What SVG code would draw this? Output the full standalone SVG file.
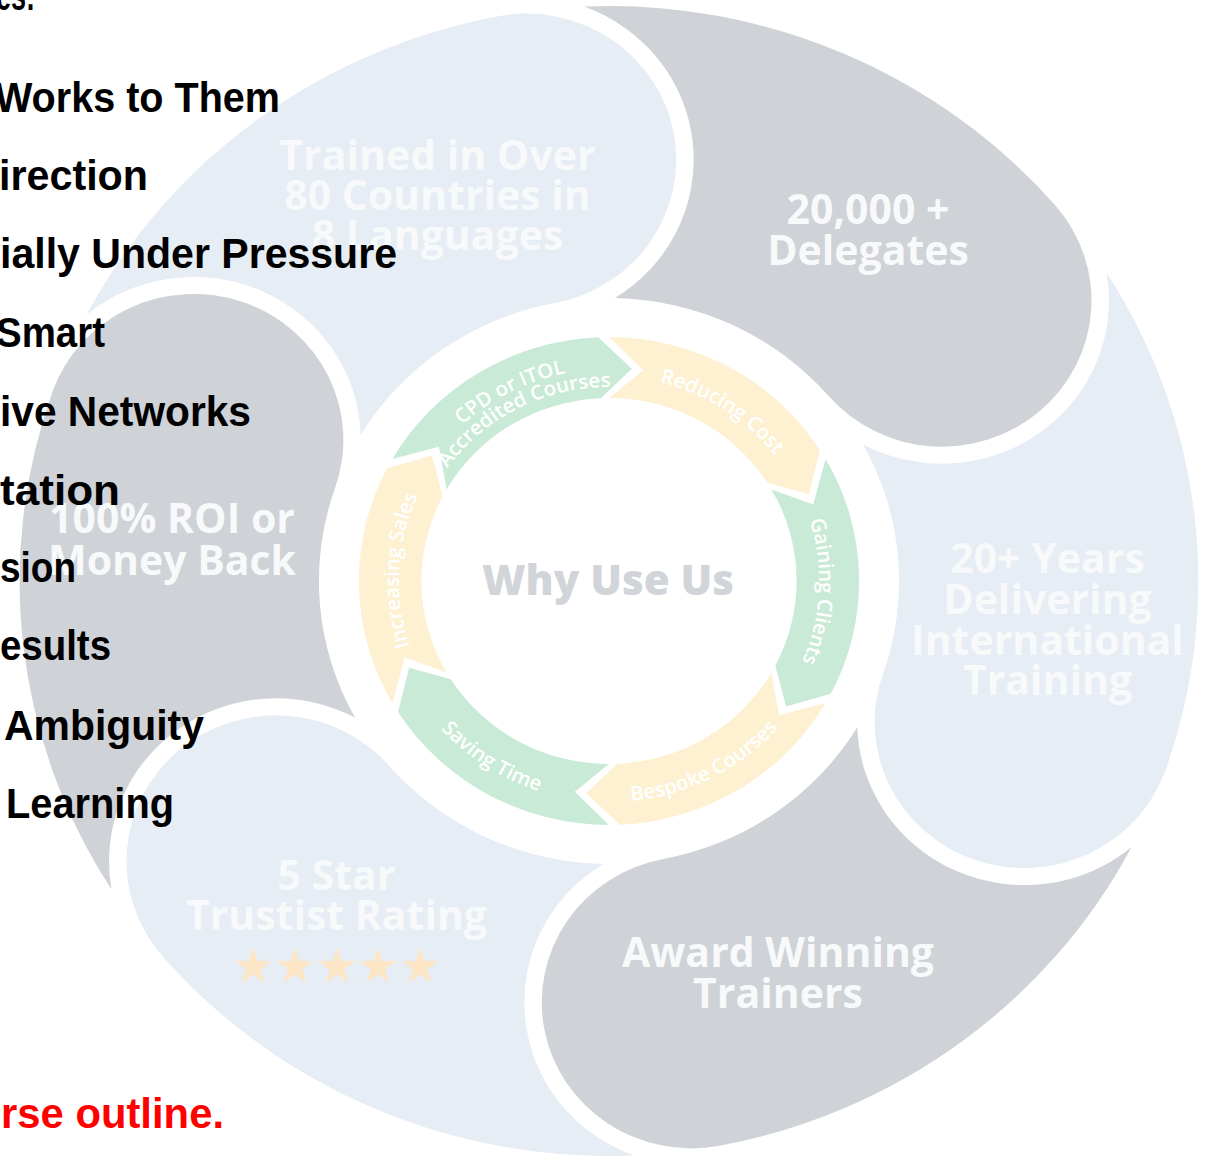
<svg xmlns="http://www.w3.org/2000/svg" width="1209" height="1156" viewBox="0 0 1209 1156">
<style>
.pg{fill:#CFD2D7}
.pb{fill:#E6EDF4}
.cg{fill:#C9EAD7}
.cy{fill:#FDF1D2}
.pt{font-family:"Open Sans","DejaVu Sans",sans-serif;font-weight:700;font-size:41px;fill:#F8F9FA;text-anchor:middle}
.rt{font-family:"Open Sans","DejaVu Sans",sans-serif;font-weight:600;font-size:20px;fill:#FFFFFF}
.hub{font-family:"Open Sans","DejaVu Sans",sans-serif;font-weight:800;font-size:42px;fill:#D1D4D9;text-anchor:middle}
.bk{font-family:"Liberation Sans",Arial,sans-serif;font-weight:700;font-size:43px;fill:#000000}
.rd{font-family:"Liberation Sans",Arial,sans-serif;font-weight:700;font-size:43px;fill:#FF0000}
.star{fill:#FDE6C6}
</style>
<defs>
<path id="petal" d="M -509.72 -266.14 A 575 575 0 0 1 -107.74 -564.82 A 146 146 0 0 1 63.02 -448.76 A 146 146 0 0 1 -53.03 -277.99 A 283 283 0 0 0 -242.23 -146.35 A 163 163 0 0 0 -509.72 -266.14 Z"/>
<path id="chev" d="M -211.31 -122 A 244 244 0 0 1 -10.64 -243.77 L 22.32 -212.33 L -7.98 -182.83 A 183 183 0 0 0 -158.48 -91.5 L -165.92 -134.36 Z"/>
<polygon id="star" points="0,-19.5 4.41,-6.07 18.55,-6.03 7.13,2.32 11.46,15.78 0,7.5 -11.46,15.78 -7.13,2.32 -18.55,-6.03 -4.41,-6.07"/>
<path id="arc-cpd1" d="M -211.71 -11.10 A 212 212 0 0 1 115.46 -177.80"/>
<path id="arc-cpd2" d="M -193.73 -10.15 A 194 194 0 0 1 105.66 -162.70"/>
<path id="arc-red" d="M -93.07 -182.66 A 205 205 0 0 1 204.72 10.73"/>
<path id="arc-gain" d="M 111.65 -171.93 A 205 205 0 0 1 93.07 182.66"/>
<path id="arc-besp" d="M -120.37 185.35 A 221 221 0 0 0 220.70 11.57"/>
<path id="arc-sav" d="M -220.70 -11.57 A 221 221 0 0 0 100.33 196.91"/>
<path id="arc-inc" d="M -111.65 171.93 A 205 205 0 0 1 -93.07 -182.66"/>
</defs>

<g id="petal-trained">
<use href="#petal" class="pb" transform="translate(609,581) scale(1.025,1) rotate(0)"/>
<text class="pt" x="437.5" y="170">Trained in Over</text>
<text class="pt" x="437.5" y="210">80 Countries in</text>
<text class="pt" x="437.5" y="250">8 Languages</text>
</g>
<g id="petal-delegates">
<use href="#petal" class="pg" transform="translate(609,581) scale(1.025,1) rotate(60)"/>
<text class="pt" x="868" y="224">20,000 +</text>
<text class="pt" x="868" y="265">Delegates</text>
</g>
<g id="petal-years">
<use href="#petal" class="pb" transform="translate(609,581) scale(1.025,1) rotate(120)"/>
<text class="pt" x="1047.5" y="573">20+ Years</text>
<text class="pt" x="1047.5" y="614">Delivering</text>
<text class="pt" x="1047.5" y="655">International</text>
<text class="pt" x="1047.5" y="695">Training</text>
</g>
<g id="petal-award">
<use href="#petal" class="pg" transform="translate(609,581) scale(1.025,1) rotate(180)"/>
<text class="pt" x="778" y="967">Award Winning</text>
<text class="pt" x="778" y="1008">Trainers</text>
</g>
<g id="petal-rating">
<use href="#petal" class="pb" transform="translate(609,581) scale(1.025,1) rotate(240)"/>
<text class="pt" x="336.5" y="890">5 Star</text>
<text class="pt" x="336.5" y="930">Trustist Rating</text>
<use href="#star" class="star" x="253" y="967"/>
<use href="#star" class="star" x="295" y="967"/>
<use href="#star" class="star" x="337" y="967"/>
<use href="#star" class="star" x="378" y="967"/>
<use href="#star" class="star" x="420" y="967"/>
</g>
<g id="petal-roi">
<use href="#petal" class="pg" transform="translate(609,581) scale(1.025,1) rotate(300)"/>
<text class="pt" x="172" y="533">100% ROI or</text>
<text class="pt" x="172" y="575">Money Back</text>
</g>

<g id="step-cpd">
<use href="#chev" class="cg" transform="translate(609,581) scale(1.025,1) rotate(0)"/>
<g transform="translate(609,581) scale(1.025,1)">
<text class="rt"><textPath href="#arc-cpd1" startOffset="50%" text-anchor="middle">CPD or ITOL</textPath></text>
<text class="rt"><textPath href="#arc-cpd2" startOffset="50%" text-anchor="middle">Accredited Courses</textPath></text>
</g>
</g>
<g id="step-reducing">
<use href="#chev" class="cy" transform="translate(609,581) scale(1.025,1) rotate(60)"/>
<text class="rt" transform="translate(609,581) scale(1.025,1)"><textPath href="#arc-red" startOffset="50%" text-anchor="middle">Reducing Cost</textPath></text>
</g>
<g id="step-gaining">
<use href="#chev" class="cg" transform="translate(609,581) scale(1.025,1) rotate(120)"/>
<text class="rt" transform="translate(609,581) scale(1.025,1)"><textPath href="#arc-gain" startOffset="50%" text-anchor="middle">Gaining Clients</textPath></text>
</g>
<g id="step-bespoke">
<use href="#chev" class="cy" transform="translate(609,581) scale(1.025,1) rotate(180)"/>
<text class="rt" transform="translate(609,581) scale(1.025,1)"><textPath href="#arc-besp" startOffset="50%" text-anchor="middle">Bespoke Courses</textPath></text>
</g>
<g id="step-saving">
<use href="#chev" class="cg" transform="translate(609,581) scale(1.025,1) rotate(240)"/>
<text class="rt" transform="translate(609,581) scale(1.025,1)"><textPath href="#arc-sav" startOffset="50%" text-anchor="middle">Saving Time</textPath></text>
</g>
<g id="step-increasing">
<use href="#chev" class="cy" transform="translate(609,581) scale(1.025,1) rotate(300)"/>
<text class="rt" transform="translate(609,581) scale(1.025,1)"><textPath href="#arc-inc" startOffset="50%" text-anchor="middle">Increasing Sales</textPath></text>
</g>

<g id="hub">
<text class="hub" x="608" y="595">Why Use Us</text>
</g>

<g id="left-text">
<text class="bk" x="-4" y="10" textLength="39" lengthAdjust="spacingAndGlyphs">es:</text>
<text class="bk" x="-5" y="112" textLength="285" lengthAdjust="spacingAndGlyphs">Works to Them</text>
<text class="bk" x="-1" y="190" textLength="149" lengthAdjust="spacingAndGlyphs">irection</text>
<text class="bk" x="0" y="268" textLength="397" lengthAdjust="spacingAndGlyphs">ially Under Pressure</text>
<text class="bk" x="-4" y="347" textLength="109" lengthAdjust="spacingAndGlyphs">Smart</text>
<text class="bk" x="0" y="426" textLength="251" lengthAdjust="spacingAndGlyphs">ive Networks</text>
<text class="bk" x="0" y="505" textLength="120" lengthAdjust="spacingAndGlyphs">tation</text>
<text class="bk" x="0" y="582" textLength="76" lengthAdjust="spacingAndGlyphs">sion</text>
<text class="bk" x="0" y="660" textLength="111" lengthAdjust="spacingAndGlyphs">esults</text>
<text class="bk" x="4" y="740" textLength="200" lengthAdjust="spacingAndGlyphs">Ambiguity</text>
<text class="bk" x="6" y="818" textLength="168" lengthAdjust="spacingAndGlyphs">Learning</text>
<text class="rd" x="1" y="1128" textLength="223" lengthAdjust="spacingAndGlyphs">rse outline.</text>
</g>
</svg>
